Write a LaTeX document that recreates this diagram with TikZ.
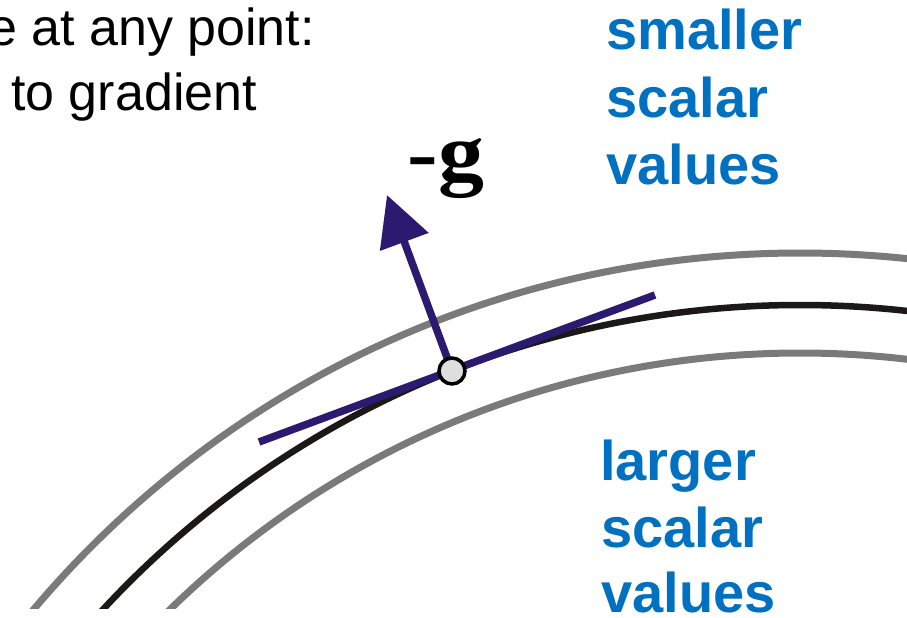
\documentclass[tikz,border=0pt]{standalone}
\usepackage{fontspec}
\setmainfont{Liberation Sans}
\newfontfamily\timesfont{Liberation Serif}
\usetikzlibrary{arrows.meta}
\definecolor{lvlgray}{RGB}{122,122,122}
\definecolor{lvlblack}{RGB}{28,24,22}
\definecolor{navy}{RGB}{42,26,112}
\definecolor{lblue}{RGB}{0,112,192}
\begin{document}
\begin{tikzpicture}[x=1pt,y=-1pt,
  levelgray/.style={line width=7pt, draw=lvlgray},
  levelblack/.style={line width=6.5pt, draw=lvlblack},
  navyline/.style={line width=7.5pt, draw=navy},
  blabel/.style={anchor=base west, inner sep=0pt, text=lblue, font=\fontsize{56}{67}\selectfont\bfseries},
  klabel/.style={anchor=base west, inner sep=0pt, text=black, font=\fontsize{52}{62}\selectfont},
  pointmark/.style={circle, draw=black, fill=black!13, line width=3.5pt, minimum size=26pt, inner sep=0pt}]
\useasboundingbox (0,0) rectangle (907,618);
\fill[white] (0,0) rectangle (907,618);
% level curves
\coordinate (C) at (800,1255);
\begin{scope}
  \clip (0,0) rectangle (907,608);
  \draw[levelgray] (C) circle[radius=1002pt];
  \draw[levelblack] (C) circle[radius=950pt];
  \draw[levelgray] (C) circle[radius=902pt];
\end{scope}
% tangent and normal
\coordinate (P) at (452,371);
\coordinate (T) at (387,195);
\coordinate (A) at (259,442);
\coordinate (B) at (655,295);
\draw[navyline] (A) -- (B);
\draw[navyline, -{Triangle[length=50pt,width=50pt]}] (P) -- (T);
\node[pointmark] (pt) at (P) {};
% labels
\node[anchor=base west, inner sep=0pt, text=black, font=\timesfont\bfseries\fontsize{82}{82}\selectfont] (g) at (407.6,180.5) {\scalebox{1.12}[1]{-g}};
\node[klabel] (t1) at (-12,46) {e at any point:};
\node[klabel] (t2) at (11,110) {to gradient};
\node[blabel] (s1) at (606,50) {smaller};
\node[blabel] (s2) at (606,117) {scalar};
\node[blabel] (s3) at (606,184) {values};
\node[blabel] (l1) at (600,480) {larger};
\node[blabel] (l2) at (601,547) {scalar};
\node[blabel] (l3) at (601,612) {values};
\end{tikzpicture}
\end{document}
